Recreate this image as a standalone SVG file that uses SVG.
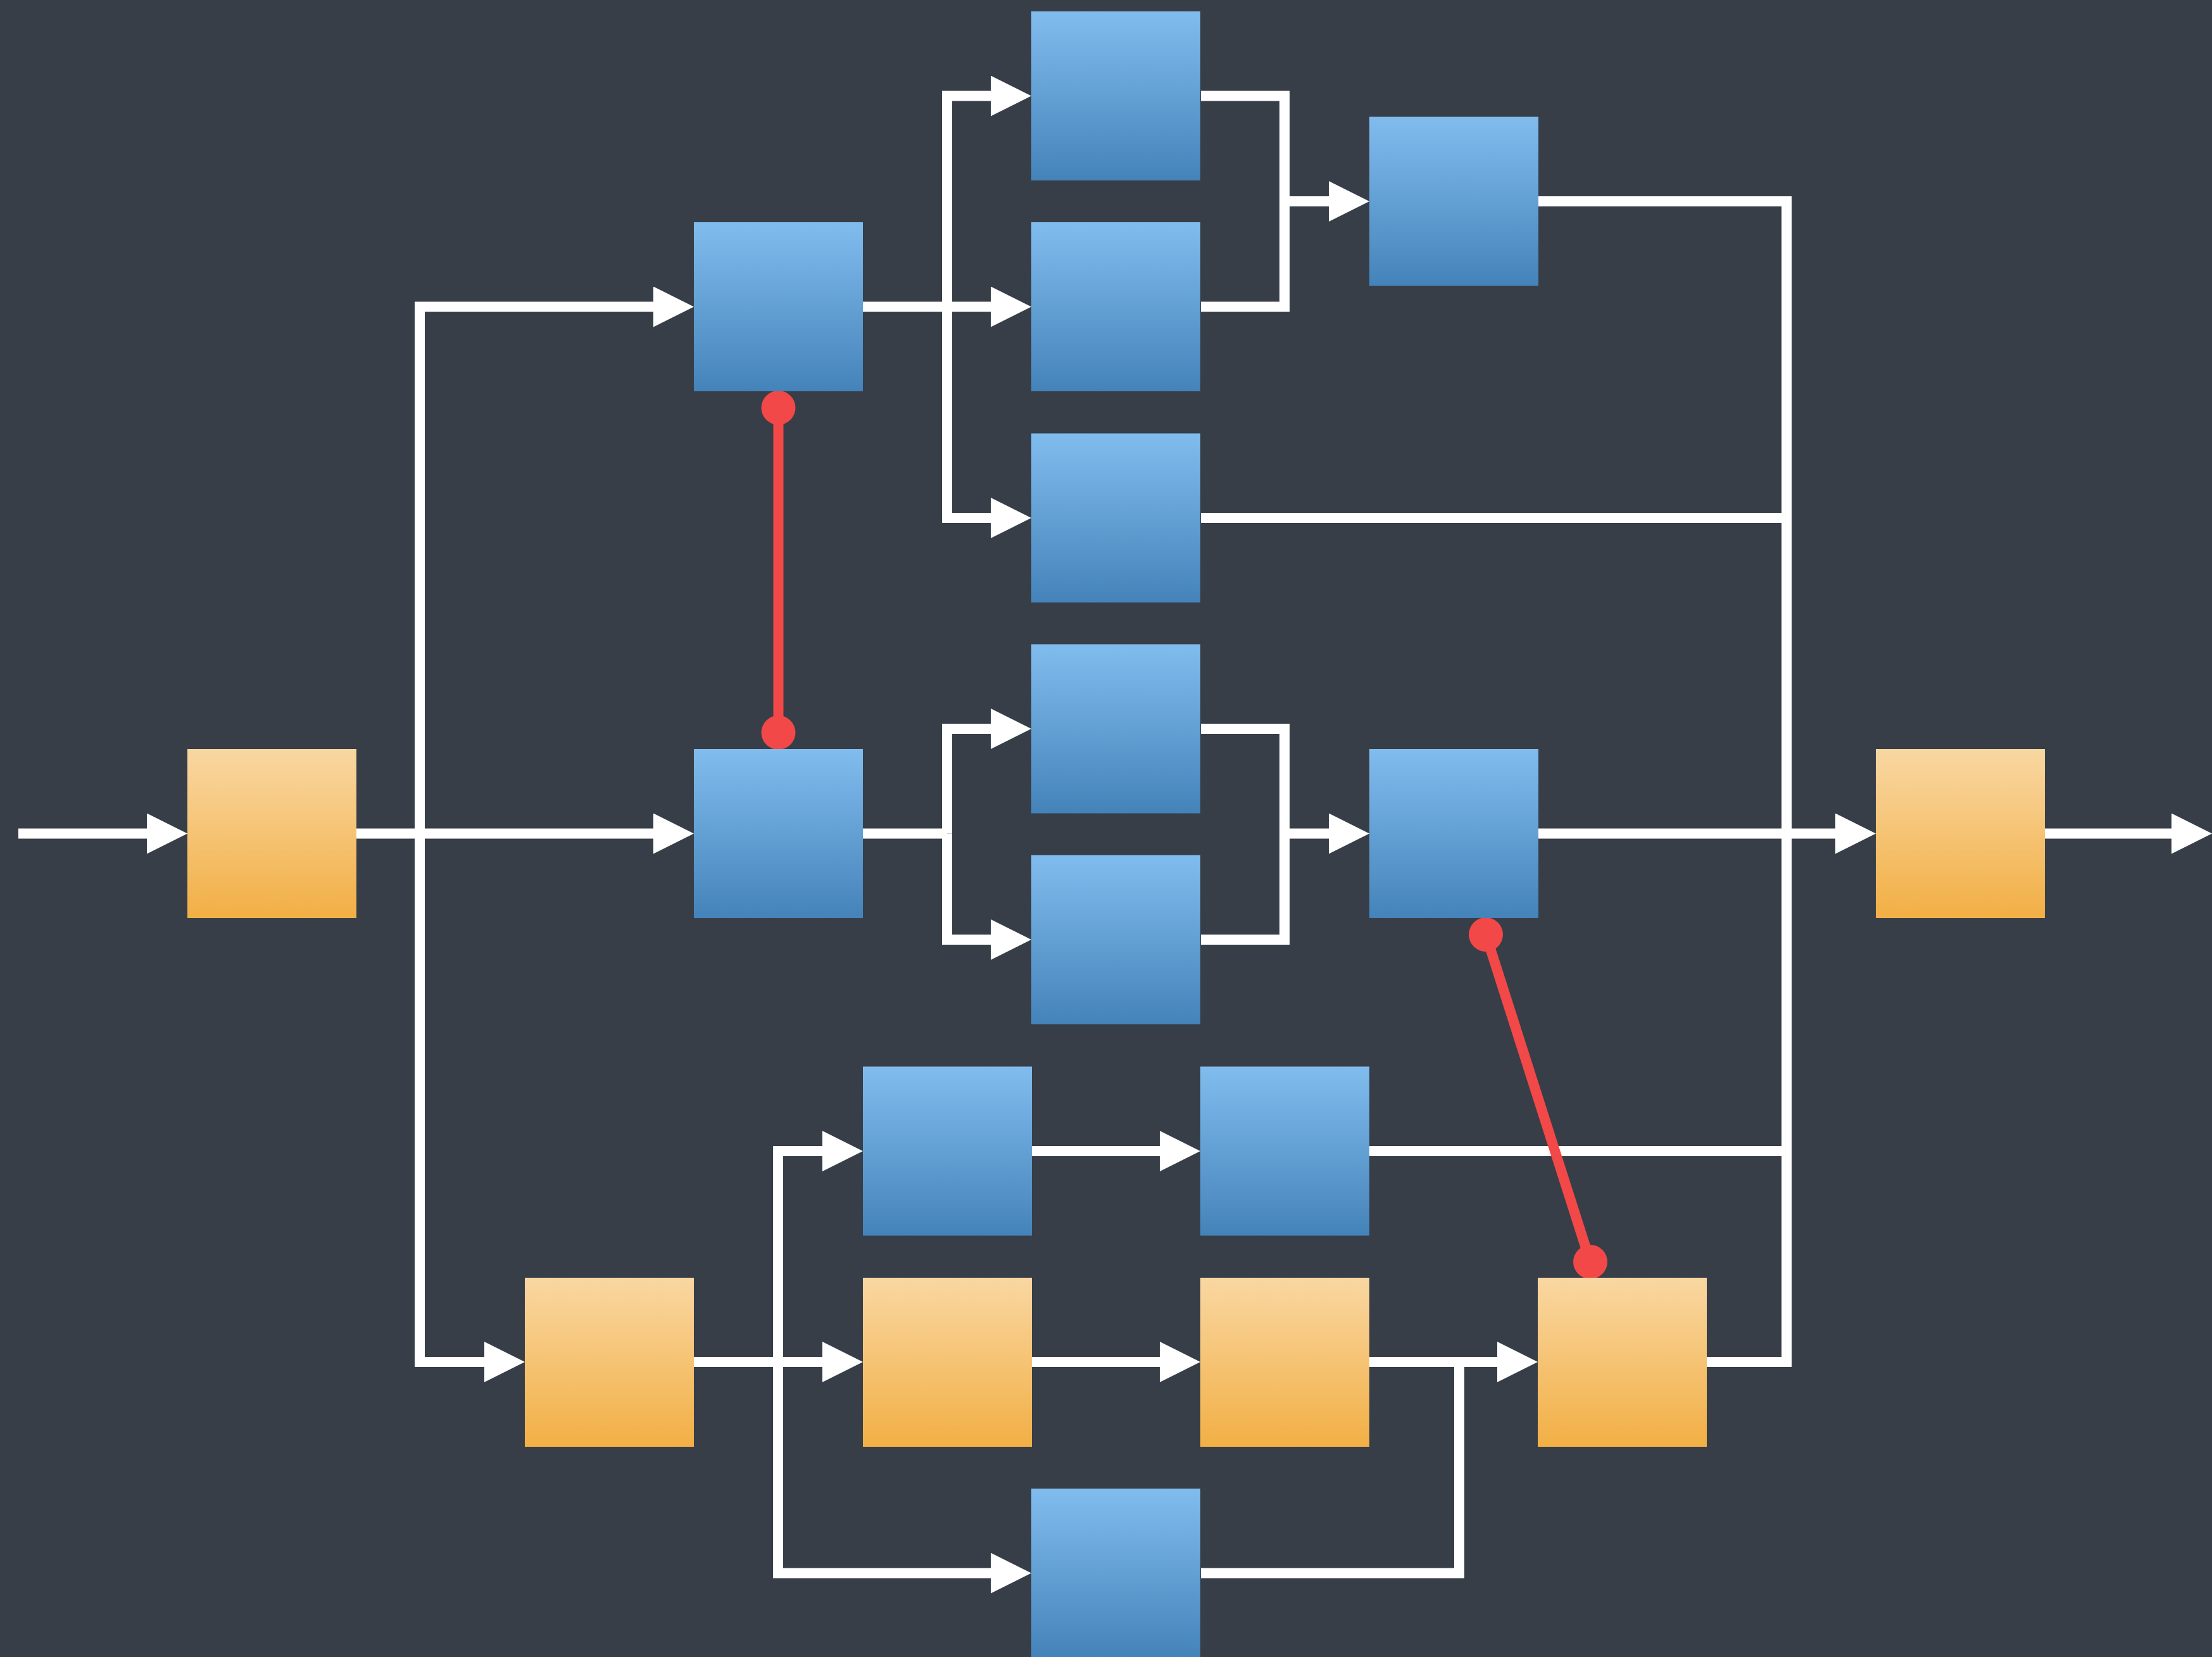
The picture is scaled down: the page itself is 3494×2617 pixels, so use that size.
<svg xmlns="http://www.w3.org/2000/svg" width="3494" height="2617" viewBox="0 0 3494 2617">
<style>
.bg{fill:#373e48}
.blue{fill:url(#gb)}
.orange{fill:url(#go)}
.wire{fill:none;stroke:#ffffff;stroke-width:16;stroke-linejoin:miter;stroke-linecap:butt}
.arr{marker-end:url(#ah)}
.red{fill:none;stroke:#f24848;stroke-width:16}
.dot{fill:#f24848}
</style>
<defs>
<linearGradient id="gb" x1="0" y1="0" x2="0" y2="1">
<stop offset="0" stop-color="#81bcee"/>
<stop offset="1" stop-color="#4483b9"/>
</linearGradient>
<linearGradient id="go" x1="0" y1="0" x2="0" y2="1">
<stop offset="0" stop-color="#f9d7a2"/>
<stop offset="1" stop-color="#f2af45"/>
</linearGradient>
<marker id="ah" markerUnits="userSpaceOnUse" markerWidth="64" markerHeight="64" refX="0" refY="32" orient="auto" viewBox="0 0 64 64">
<path d="M0,0 L64,32 L0,64 Z" fill="#ffffff"/>
</marker>
</defs>
<rect class="bg" x="0" y="0" width="3494" height="2617"/>
<g id="connectors">
<path class="wire arr" d="M29,1316.5 H232"/>
<path class="wire arr" d="M563,1316.5 H1032"/>
<path class="wire arr" d="M663,1316.5 V484.5 H1032"/>
<path class="wire arr" d="M663,1316.5 V2151 H765"/>
<path class="wire arr" d="M1363,484.5 H1565"/>
<path class="wire arr" d="M1496,484.5 V151.5 H1565"/>
<path class="wire arr" d="M1496,484.5 V818 H1565"/>
<path class="wire" d="M1897,151.5 H2029 V484.5 H1897"/>
<path class="wire arr" d="M2029,318 H2099"/>
<path class="wire" d="M2430,318 H2822 V2151 H2696"/>
<path class="wire" d="M1897,818 H2822"/>
<path class="wire" d="M1363,1316.5 H1496"/>
<path class="wire arr" d="M1496,1316.5 V1151 H1565"/>
<path class="wire arr" d="M1496,1316.5 V1484 H1565"/>
<path class="wire" d="M1897,1151 H2029 V1484 H1897"/>
<path class="wire arr" d="M2029,1316.5 H2099"/>
<path class="wire arr" d="M2430,1316.5 H2899"/>
<path class="wire arr" d="M3230,1316.5 H3430"/>
<path class="wire" d="M2163,1818 H2822"/>
<path class="wire arr" d="M1096,2151 H1299"/>
<path class="wire arr" d="M1229,2151 V1818 H1299"/>
<path class="wire arr" d="M1229,2151 V2484.5 H1565"/>
<path class="wire arr" d="M1630,1818 H1832"/>
<path class="wire arr" d="M1630,2151 H1832"/>
<path class="wire arr" d="M2163,2151 H2365"/>
<path class="wire" d="M1897,2484.5 H2305 V2151"/>
<path class="red" d="M1229.5,644 V1157"/>
<circle class="dot" cx="1229.5" cy="644" r="27"/>
<circle class="dot" cx="1229.5" cy="1157" r="27"/>
<path class="red" d="M2347,1476 L2512,1993"/>
<circle class="dot" cx="2347" cy="1476" r="27"/>
<circle class="dot" cx="2512" cy="1993" r="27"/>
</g>
<g id="n-in"><rect class="orange" x="296" y="1183" width="267" height="267"/></g>
<g id="n-a"><rect class="blue" x="1096" y="351" width="267" height="267"/></g>
<g id="n-b"><rect class="blue" x="1096" y="1183" width="267" height="267"/></g>
<g id="n-t1"><rect class="blue" x="1629" y="18" width="267" height="267"/></g>
<g id="n-t2"><rect class="blue" x="1629" y="351" width="267" height="267"/></g>
<g id="n-t3"><rect class="blue" x="1629" y="684.5" width="267" height="267"/></g>
<g id="n-tr"><rect class="blue" x="2163" y="184.5" width="267" height="267"/></g>
<g id="n-m1"><rect class="blue" x="1629" y="1017.5" width="267" height="267"/></g>
<g id="n-m2"><rect class="blue" x="1629" y="1350.5" width="267" height="267"/></g>
<g id="n-mr"><rect class="blue" x="2163" y="1183" width="267" height="267"/></g>
<g id="n-out"><rect class="orange" x="2963" y="1183" width="267" height="267"/></g>
<g id="n-o1"><rect class="orange" x="829" y="2018" width="267" height="267"/></g>
<g id="n-l1"><rect class="blue" x="1363" y="1684.5" width="267" height="267"/></g>
<g id="n-l2"><rect class="blue" x="1896" y="1684.5" width="267" height="267"/></g>
<g id="n-o2"><rect class="orange" x="1363" y="2018" width="267" height="267"/></g>
<g id="n-o3"><rect class="orange" x="1896" y="2018" width="267" height="267"/></g>
<g id="n-o4"><rect class="orange" x="2429" y="2018" width="267" height="267"/></g>
<g id="n-b7"><rect class="blue" x="1629" y="2351" width="267" height="267"/></g>
</svg>
